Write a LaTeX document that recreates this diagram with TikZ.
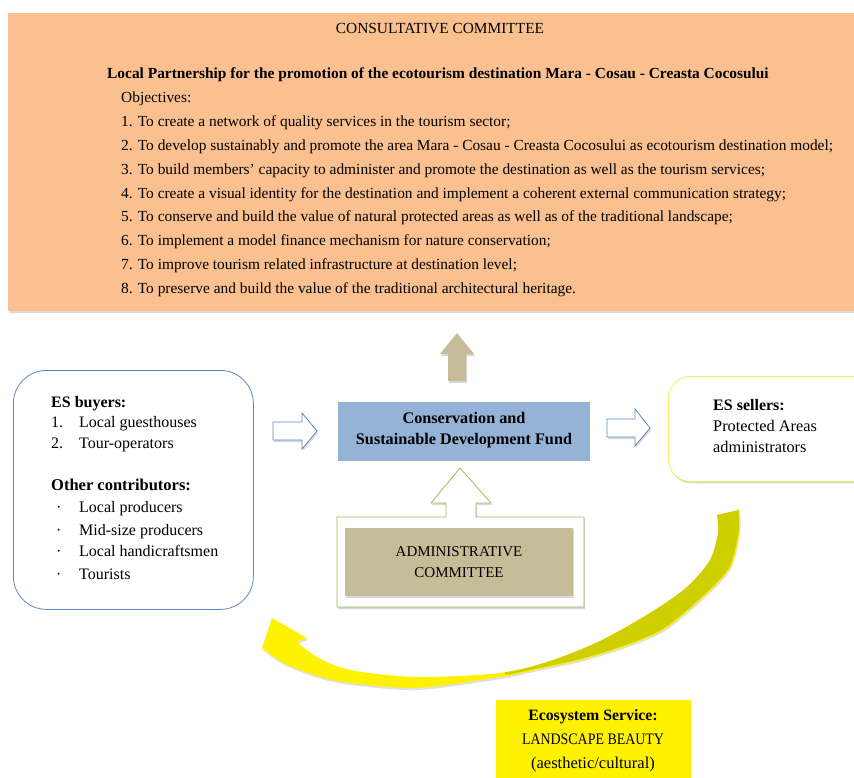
\documentclass[tikz,border=0pt]{standalone}
\usepackage{fontspec}
\usepackage{graphicx}
\setmainfont{Liberation Serif}
\usetikzlibrary{shadows}
\definecolor{orangebg}{HTML}{FAC090}
\definecolor{fundblue}{HTML}{95B3D7}
\definecolor{tanbox}{HTML}{C4BD97}
\definecolor{greenline}{HTML}{9BBB59}
\definecolor{blueline}{HTML}{5B88C4}
\definecolor{yellowline}{HTML}{F0F060}
\definecolor{olive}{HTML}{CFCF00}
\def\yarrow{(272,618) -- (307,638) -- (297,642)
  -- plot[smooth] coordinates {(297,642) (317,657) (350,670) (417,677) (500,673) (550,661) (600,641) (650,613) (687,587) (710,560) (718,533) (717,515)}
  -- (739,510)
  -- plot[smooth] coordinates {(739,510) (739,533) (730,567) (707,593) (667,627) (633,643) (583,659) (533,670) (500,677) (417,688) (350,683) (317,676) (283,663) (262,648)}
  -- cycle}
\begin{document}
\begin{tikzpicture}[x=1pt,y=-1pt,
  txt/.style={anchor=west, inner sep=0pt, text height=0.7em, text depth=0.25em, font=\fontsize{15.4}{18}\selectfont},
  boxtxt/.style={anchor=west, inner sep=0pt, text height=0.7em, text depth=0.25em, font=\fontsize{16}{18}\selectfont},
  shad/.style={drop shadow={shadow xshift=1pt, shadow yshift=-2pt, opacity=0.25, fill=black!60}},
  hollow/.style={draw=blueline, line width=0.8pt, fill=white, shad}
]
\useasboundingbox (0,0) rectangle (854,778);

% top consultative box
\node (top) [fill=orangebg, minimum width=850pt, minimum height=298pt, anchor=north west, inner sep=0pt, shad] at (8,13) {};
\node[txt, anchor=center] (cc) at (440,31) {CONSULTATIVE COMMITTEE};
\node[txt, font=\fontsize{15.4}{18}\selectfont\bfseries] (lp) at (107,76) {Local Partnership for the promotion of the ecotourism destination Mara - Cosau - Creasta Cocosului};
\node[txt] (obj) at (121,100) {Objectives:};
\node[txt] (o1) at (121,124) {1. To create a network of quality services in the tourism sector;};
\node[txt] (o2) at (121,148) {2. To develop sustainably and promote the area Mara - Cosau - Creasta Cocosului as ecotourism destination model;};
\node[txt] (o3) at (121,172) {3. To build members' capacity to administer and promote the destination as well as the tourism services;};
\node[txt] (o4) at (121,196) {4. To create a visual identity for the destination and implement a coherent external communication strategy;};
\node[txt] (o5) at (121,219) {5. To conserve and build the value of natural protected areas as well as of the traditional landscape;};
\node[txt] (o6) at (121,243) {6. To implement a model finance mechanism for nature conservation;};
\node[txt] (o7) at (121,267) {7. To improve tourism related infrastructure at destination level;};
\node[txt] (o8) at (121,291) {8. To preserve and build the value of the traditional architectural heritage.};

% up arrow (tan)
\path[fill=tanbox, shad] (457,333) -- (474,354) -- (466,354) -- (466,381) -- (448,381) -- (448,354) -- (440,354) -- cycle;

% buyers box
\node (buyers) [draw=blueline, line width=0.8pt, fill=white, rounded corners=33pt, minimum width=240pt, minimum height=239pt, anchor=north west, inner sep=0pt] at (13,370) {};
\node[boxtxt, font=\fontsize{16}{18}\selectfont\bfseries] (esb) at (51,405) {ES buyers:};
\node[boxtxt] (n1) at (51,425) {1.};
\node[boxtxt] (b1) at (79,425) {Local guesthouses};
\node[boxtxt] (n2) at (51,446) {2.};
\node[boxtxt] (b2) at (79,446) {Tour-operators};
\node[boxtxt, font=\fontsize{16.5}{18}\selectfont\bfseries] (oc) at (51,488) {Other contributors:};
\node[boxtxt] (d1) at (56,510) {·};
\node[boxtxt] (c1) at (79,510) {Local producers};
\node[boxtxt] (d2) at (56,533) {·};
\node[boxtxt] (c2) at (79,533) {Mid-size producers};
\node[boxtxt] (d3) at (56,554) {·};
\node[boxtxt] (c3) at (79,554) {Local handicraftsmen};
\node[boxtxt] (d4) at (56,577) {·};
\node[boxtxt] (c4) at (79,577) {Tourists};

% hollow arrows
\path[hollow] (273,422) -- (302,422) -- (302,413) -- (317,431) -- (302,449) -- (302,440) -- (273,440) -- cycle;
\path[hollow] (607,419) -- (635,419) -- (635,409) -- (650,428) -- (635,446) -- (635,437) -- (607,437) -- cycle;

% fund box
\node (fund) [fill=fundblue, minimum width=252pt, minimum height=59pt, anchor=north west, inner sep=0pt] at (338,402) {};
\node[font=\fontsize{16.2}{21}\selectfont\bfseries, align=center, inner sep=0pt] (fundtxt) at (464,430) {Conservation and\\Sustainable Development Fund};

% sellers box
\node (sellers) [draw=yellowline, line width=0.8pt, fill=white, rounded corners=22pt, minimum width=210pt, minimum height=105pt, anchor=north west, inner sep=0pt, shad] at (668,376) {};
\node[boxtxt, font=\fontsize{16}{18}\selectfont\bfseries] (ess) at (713,408) {ES sellers:};
\node[boxtxt, font=\fontsize{16.3}{18}\selectfont] (s1) at (713,429) {Protected Areas};
\node[boxtxt, font=\fontsize{16.3}{18}\selectfont] (s2) at (713,450) {administrators};

% green callout
\path[draw=greenline, line width=0.8pt, fill=white, shad] (337,517) -- (446,517) -- (446,503) -- (431,503) -- (460,468) -- (491,503) -- (476,503) -- (476,517) -- (584,517) -- (584,607) -- (337,607) -- cycle;
\node (admin) [fill=tanbox, minimum width=228pt, minimum height=68pt, anchor=north west, inner sep=0pt, shad] at (345,528) {};
\node[font=\fontsize{15}{21}\selectfont, align=center, inner sep=0pt] (admintxt) at (459,562) {ADMINISTRATIVE\\COMMITTEE};

% yellow curved arrow
\fill[black, opacity=0.12, shift={(1,2)}] \yarrow;
\fill[yellow] \yarrow;
\begin{scope}
  \clip (505,480) rectangle (760,700);
  \fill[olive] \yarrow;
  \draw[yellow, line width=1pt] plot[smooth] coordinates {(739,510) (739,533) (730,567) (707,593) (667,627) (633,643) (583,659) (533,670) (500,677)};
\end{scope}

% ecosystem box
\node (eco) [fill=yellow, minimum width=195pt, minimum height=80pt, anchor=north west, inner sep=0pt] at (496,700) {};
\node[boxtxt, anchor=center, font=\fontsize{15.8}{18}\selectfont\bfseries] (e1) at (593,718) {Ecosystem Service:};
\node[boxtxt, anchor=center, font=\fontsize{16}{18}\selectfont] (e2) at (593,742) {\scalebox{0.87}[1]{LANDSCAPE BEAUTY}};
\node[boxtxt, anchor=center, font=\fontsize{16.5}{18}\selectfont] (e3) at (593,766) {(aesthetic/cultural)};
\end{tikzpicture}
\end{document}
